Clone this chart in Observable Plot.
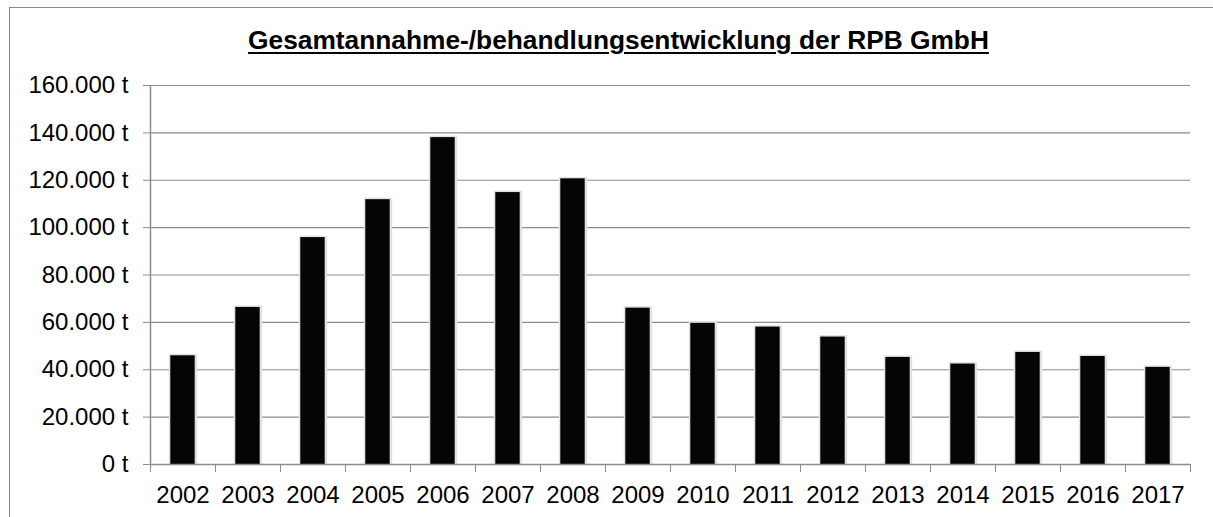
<!DOCTYPE html>
<html>
<head>
<meta charset="utf-8">
<script src="https://cdn.jsdelivr.net/npm/d3@7"></script>
<script src="https://cdn.jsdelivr.net/npm/@observablehq/plot@0.6"></script>
<style>
  html, body { margin: 0; padding: 0; background: #fff; }
  body { width: 1213px; height: 517px; overflow: hidden; position: relative; font-family: "Liberation Sans", Arial, sans-serif; }
  #frame { position: absolute; left: 9px; top: 7px; width: 1220px; height: 540px; border-left: 1.5px solid #8a8a8a; border-top: 1.5px solid #8a8a8a; }
  #title { position: absolute; left: 12px; top: 0; width: 1213px; height: 60px; text-align: center; }
  #title span { display: inline-block; margin-top: 25px; font-size: 26.3px; line-height: 30px; font-weight: bold; text-decoration: underline; text-underline-offset: 3px; text-decoration-thickness: 2px; color: #000; }
  #chart { position: absolute; left: 0; top: 60px; }
</style>
</head>
<body>
<div id="frame"></div>
<div id="title"><span>Gesamtannahme-/behandlungsentwicklung der RPB GmbH</span></div>
<div id="chart"></div>
<script>
const years = ["2002","2003","2004","2005","2006","2007","2008","2009","2010","2011","2012","2013","2014","2015","2016","2017"];
const tonnes = [45900, 66300, 95800, 111800, 138000, 114800, 120600, 66000, 59600, 58000, 53800, 45200, 42400, 47300, 45600, 41000];
const yTicks = [0, 20000, 40000, 60000, 80000, 100000, 120000, 140000, 160000];

const data = years.map((y, i) => ({year: y, i, value: tonnes[i]}));
const fmt = d => d3.format(",")(d).replace(/,/g, ".") + " t";
const gridColor = "#8c8c8c";
const inset = 20.3;

const plot = Plot.plot({
  width: 1213,
  height: 457,
  marginLeft: 150,
  marginRight: 23,
  marginTop: 25,
  marginBottom: 53,
  style: {fontFamily: "Liberation Sans, Arial, sans-serif", fontSize: "24px", color: "#000", background: "transparent"},
  x: {type: "linear", domain: [0, years.length]},
  y: {domain: [0, 160000]},
  marks: [
    Plot.ruleY(yTicks, {stroke: gridColor, strokeWidth: 1.2, x1: 0, x2: years.length}),
    Plot.axisY({ticks: yTicks, tickFormat: fmt, tickSize: 7, tickPadding: 15, stroke: gridColor, fill: "#000", fontSize: 24, label: null}),
    // bar soft shadow
    Plot.rectY(data, {x1: "i", x2: d => d.i + 1, y: "value", insetLeft: inset - 1.5, insetRight: inset - 2.5, insetTop: -1.5, fill: "#e2e2e2"}),
    // bars
    Plot.rectY(data, {x1: "i", x2: d => d.i + 1, y: "value", insetLeft: inset, insetRight: inset, fill: "#050505"}),
    Plot.ruleX([0], {stroke: gridColor, strokeWidth: 1.5, y1: 0, y2: 160000}),
    Plot.ruleY([0], {stroke: gridColor, strokeWidth: 1.5}),
    Plot.axisX({ticks: d3.range(0, years.length + 1), tickFormat: () => "", tickSize: 8, stroke: gridColor, label: null}),
    Plot.text(data, {x: d => d.i + 0.5, y: 0, text: "year", dy: 31, fontSize: 24, fill: "#000", textAnchor: "middle"})
  ]
});
document.getElementById("chart").appendChild(plot);
</script>
</body>
</html>
